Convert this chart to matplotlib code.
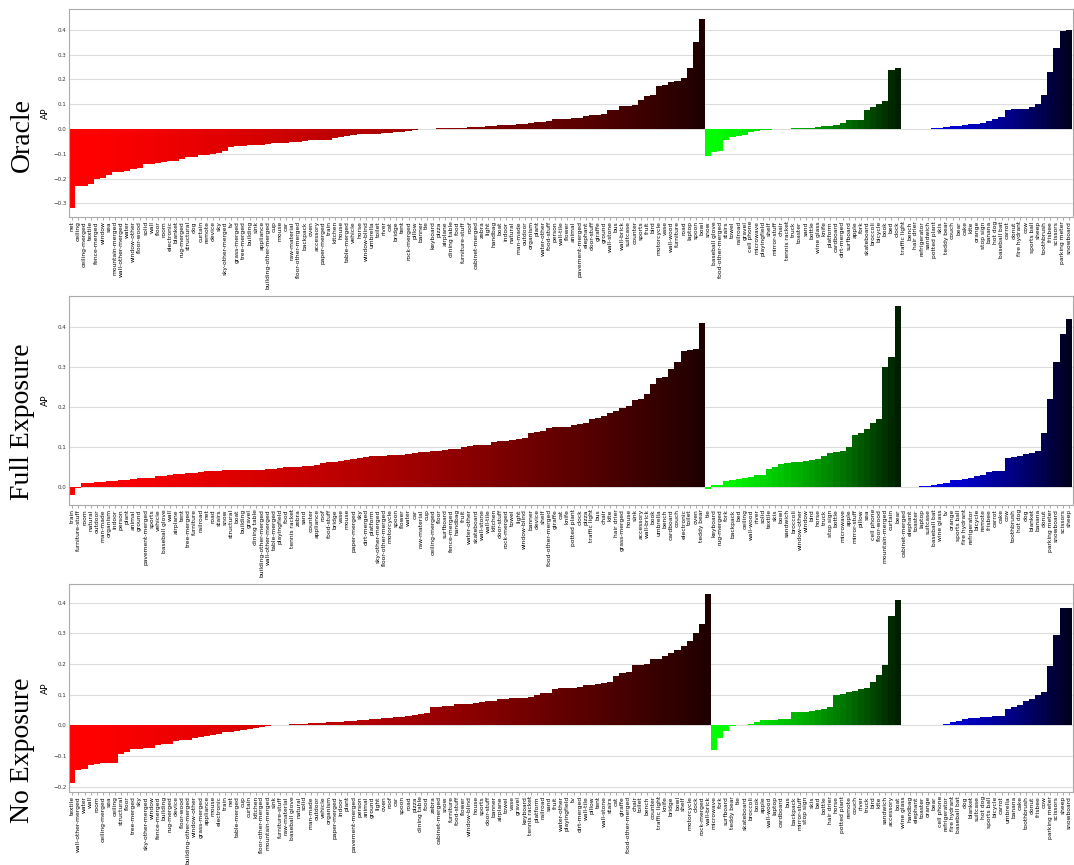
import numpy as np
import matplotlib.pyplot as plt
from matplotlib.ticker import MultipleLocator

# ---------------- Oracle ----------------
oracle_red_labels = [
    'net', 'ceiling', 'ceiling-merged', 'textile', 'fence-merged', 'window', 'sea',
    'mountain-merged', 'wall-other-merged', 'water', 'window-other', 'floor-wood', 'solid',
    'wall', 'floor', 'room', 'electronic', 'blanket', 'rug-merged', 'structural', 'dog',
    'curtain', 'remote', 'device', 'sky', 'sky-other-merged', 'tv', 'grass-merged',
    'tree-merged', 'building', 'sink', 'appliance', 'building-other-merged', 'cup', 'mouse',
    'car', 'raw-material', 'floor-other-merged', 'backpack', 'oven', 'accessory',
    'paper-merged', 'train', 'kitchen', 'house', 'table-merged', 'vehicle', 'horse',
    'window-blind', 'umbrella', 'toilet', 'river', 'cat', 'bridge', 'tent', 'rock-merged',
    'pillow', 'banner', 'tie', 'keyboard', 'pizza', 'airplane', 'dining table', 'food',
    'furniture-stuff', 'roof', 'cabinet-merged', 'zebra', 'light', 'handbag', 'boat',
    'indoor', 'natural', 'man-made', 'outdoor', 'organism', 'plant', 'water-other',
    'food-stuff', 'person', 'wall-tile', 'flower', 'animal', 'pavement-merged', 'elephant',
    'door-stuff', 'giraffe', 'ground', 'wall-stone', 'bus', 'wall-brick', 'suitcase',
    'counter', 'sports', 'fruit', 'bird', 'motorcycle', 'vase', 'wall-wood', 'furniture',
    'road', 'laptop', 'spoon', 'bowl']
oracle_red_ap = [
    -0.317, -0.231, -0.229, -0.220, -0.200, -0.196, -0.184, -0.175, -0.173, -0.169,
    -0.160, -0.159, -0.143, -0.142, -0.139, -0.134, -0.130, -0.127, -0.120, -0.113,
    -0.112, -0.105, -0.103, -0.101, -0.096, -0.089, -0.072, -0.069, -0.067, -0.066,
    -0.063, -0.063, -0.061, -0.058, -0.055, -0.055, -0.054, -0.051, -0.050, -0.046,
    -0.046, -0.045, -0.043, -0.035, -0.032, -0.029, -0.026, -0.022, -0.021, -0.019,
    -0.018, -0.017, -0.015, -0.012, -0.010, -0.006, -0.003, 0.000, 0.000, 0.002,
    0.003, 0.005, 0.005, 0.006, 0.006, 0.007, 0.009, 0.010, 0.012, 0.013,
    0.015, 0.016, 0.017, 0.019, 0.021, 0.024, 0.027, 0.030, 0.034, 0.040,
    0.041, 0.042, 0.044, 0.045, 0.054, 0.057, 0.057, 0.059, 0.075, 0.076,
    0.093, 0.093, 0.098, 0.118, 0.133, 0.138, 0.175, 0.177, 0.188, 0.193,
    0.208, 0.247, 0.350, 0.445]
oracle_green_labels = [
    'snow', 'baseball glove', 'food-other-merged', 'stairs', 'towel', 'railroad', 'gravel',
    'cell phone', 'microwave', 'playingfield', 'shelf', 'mirror-stuff', 'chair',
    'tennis racket', 'truck', 'toaster', 'sand', 'bottle', 'wine glass', 'knife', 'platform',
    'cardboard', 'dirt-merged', 'surfboard', 'apple', 'fork', 'skateboard', 'broccoli',
    'bicycle', 'book', 'bed', 'clock']
oracle_green_ap = [
    -0.110, -0.093, -0.090, -0.043, -0.033, -0.030, -0.026, -0.010, -0.006, -0.004,
    -0.002, -0.001, 0.000, 0.001, 0.003, 0.004, 0.005, 0.006, 0.009, 0.011,
    0.012, 0.018, 0.026, 0.035, 0.035, 0.037, 0.078, 0.090, 0.100, 0.114,
    0.239, 0.246]
oracle_blue_labels = [
    'traffic light', 'bench', 'hair drier', 'refrigerator', 'sandwich', 'potted plant',
    'skis', 'teddy bear', 'couch', 'bear', 'cake', 'kite', 'orange', 'stop sign', 'banana',
    'hot dog', 'baseball bat', 'carrot', 'donut', 'fire hydrant', 'cow', 'sports ball',
    'sheep', 'toothbrush', 'frisbee', 'scissors', 'parking meter', 'snowboard']
oracle_blue_ap = [
    0.000, 0.000, 0.000, 0.001, 0.002, 0.004, 0.005, 0.009, 0.012, 0.013,
    0.018, 0.021, 0.022, 0.026, 0.033, 0.040, 0.047, 0.076, 0.080, 0.081,
    0.082, 0.088, 0.100, 0.139, 0.232, 0.326, 0.397, 0.400]

# ---------------- Full Exposure ----------------
full_red_labels = [
    'train', 'furniture-stuff', 'room', 'natural', 'outdoor', 'man-made', 'organism',
    'indoor', 'person', 'plant', 'animal', 'ground', 'pavement-merged', 'sports', 'vehicle',
    'baseball glove', 'wall', 'airplane', 'tent', 'tree-merged', 'furniture', 'railroad',
    'net', 'road', 'stairs', 'snow', 'structural', 'boat', 'building', 'gravel',
    'dining table', 'building-other-merged', 'wall-other-merged', 'table-merged',
    'playingfield', 'food', 'tennis racket', 'zebra', 'sand', 'counter', 'appliance',
    'roof', 'food-stuff', 'bridge', 'vase', 'mouse', 'paper-merged', 'sky', 'dirt-merged',
    'platform', 'sky-other-merged', 'floor-other-merged', 'motorcycle', 'spoon', 'flower',
    'water', 'car', 'raw-material', 'cup', 'ceiling-merged', 'floor', 'surfboard',
    'fence-merged', 'handbag', 'fruit', 'water-other', 'skateboard', 'wall-stone',
    'wall-tile', 'kitchen', 'door-stuff', 'rock-merged', 'towel', 'light', 'window-blind',
    'banner', 'device', 'shelf', 'food-other-merged', 'giraffe', 'cat', 'knife',
    'potted plant', 'clock', 'pizza', 'traffic light', 'bus', 'chair', 'kite', 'hair drier',
    'grass-merged', 'house', 'sink', 'accessory', 'wall-brick', 'book', 'umbrella', 'bench',
    'cardboard', 'couch', 'electronic', 'toilet', 'oven', 'teddy bear']
full_red_ap = [
    -0.022, -0.002, 0.009, 0.010, 0.012, 0.012, 0.014, 0.015, 0.017, 0.018,
    0.020, 0.021, 0.022, 0.023, 0.026, 0.028, 0.030, 0.031, 0.032, 0.034,
    0.035, 0.038, 0.039, 0.039, 0.040, 0.041, 0.042, 0.042, 0.042, 0.043,
    0.043, 0.043, 0.044, 0.044, 0.048, 0.049, 0.049, 0.050, 0.052, 0.052,
    0.055, 0.060, 0.062, 0.063, 0.065, 0.066, 0.070, 0.072, 0.074, 0.078,
    0.078, 0.078, 0.079, 0.079, 0.080, 0.083, 0.085, 0.087, 0.088, 0.090,
    0.090, 0.093, 0.095, 0.095, 0.100, 0.102, 0.104, 0.105, 0.106, 0.113,
    0.114, 0.116, 0.117, 0.120, 0.123, 0.135, 0.137, 0.140, 0.147, 0.150,
    0.150, 0.151, 0.154, 0.158, 0.160, 0.171, 0.173, 0.178, 0.185, 0.190,
    0.197, 0.203, 0.217, 0.219, 0.234, 0.259, 0.273, 0.275, 0.296, 0.314,
    0.341, 0.343, 0.346, 0.410]
full_green_labels = [
    'tie', 'keyboard', 'rug-merged', 'fork', 'backpack', 'bed', 'ceiling', 'wall-wood',
    'river', 'solid', 'textile', 'skis', 'bowl', 'sandwich', 'broccoli', 'window-other',
    'window', 'bird', 'horse', 'truck', 'stop sign', 'bottle', 'microwave', 'apple',
    'mirror-stuff', 'pillow', 'sea', 'cell phone', 'floor-wood', 'mountain-merged',
    'curtain', 'bear']
full_green_ap = [
    -0.005, 0.004, 0.005, 0.015, 0.016, 0.019, 0.022, 0.024, 0.029, 0.030,
    0.045, 0.050, 0.058, 0.059, 0.061, 0.063, 0.065, 0.067, 0.070, 0.078,
    0.085, 0.088, 0.090, 0.100, 0.129, 0.134, 0.146, 0.161, 0.171, 0.300,
    0.326, 0.455]
full_blue_labels = [
    'cabinet-merged', 'elephant', 'toaster', 'laptop', 'suitcase', 'baseball bat',
    'wine glass', 'tv', 'orange', 'sports ball', 'fire hydrant', 'refrigerator', 'bicycle',
    'remote', 'frisbee', 'carrot', 'cake', 'cow', 'toothbrush', 'hot dog', 'dog', 'blanket',
    'banana', 'donut', 'parking meter', 'snowboard', 'scissors', 'sheep']
full_blue_ap = [
    -0.001, 0.000, 0.000, 0.001, 0.003, 0.005, 0.008, 0.009, 0.017, 0.018,
    0.019, 0.021, 0.026, 0.030, 0.037, 0.040, 0.040, 0.073, 0.075, 0.078,
    0.083, 0.085, 0.090, 0.135, 0.220, 0.312, 0.383, 0.422]

# ---------------- No Exposure ----------------
noexp_red_labels = [
    'textile', 'wall-other-merged', 'water', 'wall', 'room', 'ceiling-merged', 'sea',
    'ceiling', 'structural', 'floor', 'tree-merged', 'sky', 'sky-other-merged', 'window',
    'fence-merged', 'building', 'rug-merged', 'device', 'floor-wood',
    'building-other-merged', 'window-other', 'grass-merged', 'appliance', 'mouse',
    'electronic', 'train', 'net', 'table-merged', 'cup', 'curtain', 'kitchen',
    'floor-other-merged', 'mountain-merged', 'sink', 'furniture-stuff', 'raw-material',
    'baseball glove', 'natural', 'solid', 'man-made', 'outdoor',
    'vehicle', 'organism', 'paper-merged', 'indoor', 'plant', 'pavement-merged', 'person',
    'animal', 'ground', 'light', 'oven', 'roof', 'car', 'spoon', 'road', 'pizza',
    'dining table', 'food', 'zebra', 'cabinet-merged', 'snow', 'furniture', 'food-stuff',
    'flower', 'window-blind', 'house', 'sports', 'door-stuff', 'banner', 'airplane', 'towel',
    'vase', 'gravel', 'keyboard', 'tennis racket', 'platform', 'railroad', 'sand', 'fruit',
    'water-other', 'playingfield',
    'tv', 'dirt-merged', 'wall-tile', 'pillow', 'tent', 'wall-stone', 'stairs', 'cat',
    'giraffe', 'food-other-merged', 'chair', 'toilet', 'bench', 'counter', 'traffic light',
    'knife', 'bridge', 'bowl', 'shelf', 'motorcycle', 'clock', 'rock-merged', 'wall-brick']
noexp_red_ap = [
    -0.187, -0.147, -0.144, -0.129, -0.128, -0.124, -0.122, -0.122, -0.094, -0.088,
    -0.078, -0.077, -0.075, -0.073, -0.065, -0.060, -0.060, -0.050, -0.048, -0.047,
    -0.041, -0.038, -0.034, -0.031, -0.030, -0.023, -0.021, -0.020, -0.017, -0.011,
    -0.008, -0.005, -0.002, 0.000, 0.000, 0.001, 0.003, 0.003, 0.004, 0.006,
    0.007,
    0.008, 0.010, 0.012, 0.012, 0.013, 0.015, 0.017, 0.018, 0.020, 0.020,
    0.023, 0.024, 0.026, 0.028, 0.031, 0.034, 0.036, 0.040, 0.059, 0.060,
    0.062, 0.064, 0.068, 0.069, 0.070, 0.074, 0.077, 0.079, 0.080, 0.085,
    0.086, 0.088, 0.090, 0.090, 0.092, 0.100, 0.104, 0.106, 0.117, 0.120,
    0.122,
    0.123, 0.125, 0.131, 0.131, 0.134, 0.139, 0.142, 0.162, 0.169, 0.174,
    0.195, 0.198, 0.200, 0.215, 0.216, 0.225, 0.237, 0.245, 0.260, 0.275,
    0.301, 0.331, 0.429]
noexp_green_labels = [
    'microwave', 'fork', 'surfboard', 'teddy bear', 'tie', 'skateboard', 'broccoli', 'book',
    'apple', 'wall-wood', 'laptop', 'cardboard', 'bus', 'backpack', 'mirror-stuff',
    'stop sign', 'skis', 'bed', 'bottle', 'hair drier', 'horse', 'potted plant', 'remote',
    'couch', 'river', 'truck', 'bird', 'kite', 'sandwich', 'accessory', 'boat']
noexp_green_ap = [
    -0.080, -0.043, -0.020, -0.003, 0.001, 0.002, 0.003, 0.010, 0.017, 0.017,
    0.018, 0.020, 0.021, 0.042, 0.042, 0.042, 0.048, 0.049, 0.054, 0.060,
    0.098, 0.103, 0.110, 0.113, 0.118, 0.121, 0.140, 0.164, 0.197, 0.355,
    0.407]
noexp_blue_labels = [
    'wine glass', 'handbag', 'elephant', 'toaster', 'orange', 'bear', 'cell phone',
    'refrigerator', 'fire hydrant', 'baseball bat', 'dog', 'blanket', 'suitcase', 'hot dog',
    'sports ball', 'bicycle', 'carrot', 'umbrella', 'banana', 'cake', 'toothbrush', 'donut',
    'frisbee', 'cow', 'parking meter', 'scissors', 'sheep', 'snowboard']
noexp_blue_ap = [
    0.000, 0.000, 0.000, 0.000, 0.001, 0.001, 0.002, 0.003, 0.010, 0.015,
    0.020, 0.022, 0.024, 0.026, 0.028, 0.030, 0.031, 0.052, 0.058, 0.066,
    0.078, 0.086, 0.100, 0.108, 0.193, 0.295, 0.382, 0.383]


def shades(n, base):
    # bright for the low end of a group, dark for the high end
    out = []
    for i in range(n):
        t = i / max(n - 1, 1)
        k = 1.0 - 0.88 * t ** 1.4
        out.append((base[0] * k, base[1] * k, base[2] * k))
    return out


def panel(fig, rect, groups, title, title_y):
    ax = fig.add_axes(rect)
    labels, vals, colors = [], [], []
    for lab, ap, base in groups:
        labels += lab
        vals += ap
        colors += shades(len(ap), base)
    x = np.arange(len(vals))
    ax.bar(x, vals, width=1.0, color=colors, linewidth=0)
    ax.set_xlim(-0.5, len(vals) - 0.3)
    ax.set_xticks(x)
    ax.set_xticklabels(labels, rotation=90, fontsize=4.3)
    ax.yaxis.set_major_locator(MultipleLocator(0.1))
    ax.tick_params(axis='y', labelsize=4, length=0, pad=2, labelcolor='#333333')
    ax.tick_params(axis='x', length=2, width=0.5, pad=1, color='#888888')
    ax.set_axisbelow(True)
    ax.yaxis.grid(True, color='#dddddd', linewidth=0.8)
    for s in ax.spines.values():
        s.set_color('#aaaaaa')
        s.set_linewidth(0.8)
    ax.set_ylabel('AP', fontsize=6.5)
    ax.yaxis.set_label_coords(-0.019, 0.5)
    fig.text(0.021, 1 - title_y / 865, title, rotation=90, fontsize=20,
             family='Liberation Serif', ha='center', va='center')
    return ax


fig = plt.figure(figsize=(10.74, 8.65), dpi=100)

red = (1, 0, 0)
green = (0, 1, 0)
blue = (0, 0, 1)

panel(fig, [0.0645, 0.7491, 0.9346, 0.2401],
      [(oracle_red_labels, oracle_red_ap, red),
       (oracle_green_labels, oracle_green_ap, green),
       (oracle_blue_labels, oracle_blue_ap, blue)], 'Oracle', 135)
panel(fig, [0.0645, 0.4162, 0.9346, 0.2416],
      [(full_red_labels, full_red_ap, red),
       (full_green_labels, full_green_ap, green),
       (full_blue_labels, full_blue_ap, blue)], 'Full Exposure', 422)
panel(fig, [0.0645, 0.0844, 0.9346, 0.2401],
      [(noexp_red_labels, noexp_red_ap, red),
       (noexp_green_labels, noexp_green_ap, green),
       (noexp_blue_labels, noexp_blue_ap, blue)], 'No Exposure', 750)

fig.savefig('out.png', dpi=100)
